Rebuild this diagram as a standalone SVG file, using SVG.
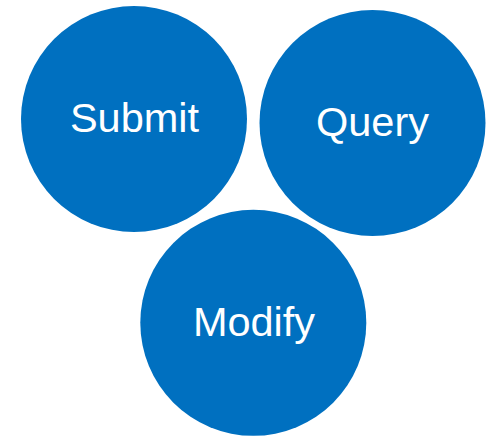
<svg xmlns="http://www.w3.org/2000/svg" width="491" height="436" viewBox="0 0 491 436">
<style>
.c{fill:#0070C0}
.t{fill:#fff;font-family:"Liberation Sans",Arial,sans-serif;font-size:41.5px;text-anchor:middle}
</style>
<rect width="491" height="436" fill="#fff"/>
<g id="submit"><circle class="c" cx="134" cy="119" r="113"/><text class="t" x="134.5" y="132">Submit</text></g>
<g id="query"><circle class="c" cx="372.5" cy="123" r="113"/><text class="t" x="372.5" y="136">Query</text></g>
<g id="modify"><circle class="c" cx="253.3" cy="322.8" r="113"/><text class="t" x="254" y="335.5">Modify</text></g>
<g id="connectors"/>
</svg>
